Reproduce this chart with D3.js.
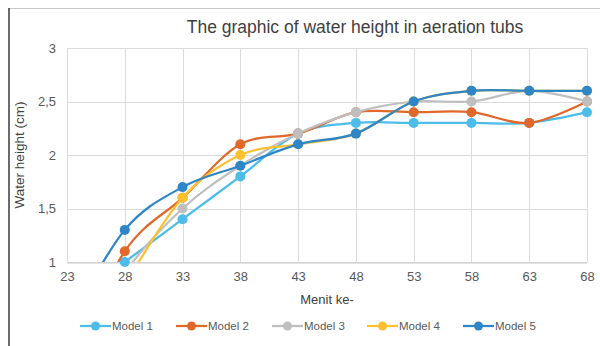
<!DOCTYPE html>
<html>
<head>
<meta charset="utf-8">
<script src="https://cdn.jsdelivr.net/npm/d3@7/dist/d3.min.js"></script>
<style>
  html, body { margin: 0; padding: 0; background: #fff; }
  svg { display: block; }
  text { font-family: "Liberation Sans", Arial, sans-serif; }
</style>
</head>
<body>
<svg id="chart" width="600" height="346"></svg>
<script>
// Minutes (x) and water height in cm for each aeration model
const minutes = [23, 28, 33, 38, 43, 48, 53, 58, 63, 68];
const model1 = [null, 1.0, 1.4, 1.8, 2.2, 2.3, 2.3, 2.3, 2.3, 2.4];
const model2 = [0, 1.1, 1.6, 2.1, 2.2, 2.4, 2.4, 2.4, 2.3, 2.5];
const model3 = [0, 0.9, 1.5, 1.9, 2.2, 2.4, 2.5, 2.5, 2.6, 2.5];
const model4 = [0, 0.8, 1.6, 2.0, 2.1, 2.2, 2.5, 2.6, 2.6, 2.6];
const model5 = [0.4, 1.3, 1.7, 1.9, 2.1, 2.2, 2.5, 2.6, 2.6, 2.6];
const seriesNames = ["Model 1", "Model 2", "Model 3", "Model 4", "Model 5"];
const seriesColors = ["#4cbde9", "#e0682a", "#bfbfbf", "#fdc02f", "#2f86c7"];
const xTicks = [23, 28, 33, 38, 43, 48, 53, 58, 63, 68];
const yTicks = [1, 1.5, 2, 2.5, 3];

const seriesValues = [model1, model2, model3, model4, model5];
const series = seriesNames.map((name, i) => ({
  name,
  color: seriesColors[i],
  points: minutes.map((m, j) => ({ x: m, y: seriesValues[i][j] })).filter(p => p.y !== null)
}));

const svg = d3.select("#chart");
const plot = { left: 67, right: 587, top: 48, bottom: 262 };

const x = d3.scaleLinear().domain([23, 68]).range([plot.left, plot.right]);
const y = d3.scaleLinear().domain([1, 3]).range([plot.bottom, plot.top]);

// Outer frame of the chart box
svg.append("line").attr("x1", 8.5).attr("x2", 600).attr("y1", 8.5).attr("y2", 8.5)
  .attr("stroke", "#c8c8c8").attr("stroke-width", 1);
svg.append("line").attr("x1", 9).attr("x2", 9).attr("y1", 8).attr("y2", 346)
  .attr("stroke", "#3a3a3a").attr("stroke-width", 1.5);

// Title
svg.append("text")
  .attr("x", 355).attr("y", 33)
  .attr("text-anchor", "middle")
  .attr("font-size", 17.5)
  .attr("fill", "#3f3f3f")
  .text("The graphic of water height in aeration tubs");

// Gridlines
const grid = svg.append("g").attr("stroke", "#dcdcdc").attr("stroke-width", 1);
grid.selectAll("line.h").data(yTicks).join("line")
  .attr("x1", plot.left).attr("x2", plot.right)
  .attr("y1", d => Math.round(y(d)) + 0.5).attr("y2", d => Math.round(y(d)) + 0.5);
grid.selectAll("line.v").data(xTicks).join("line")
  .attr("y1", plot.top).attr("y2", plot.bottom)
  .attr("x1", d => Math.round(x(d)) + 0.5).attr("x2", d => Math.round(x(d)) + 0.5);

// Axes (labels only; the bottom rule is slightly darker)
const xAxis = svg.append("g")
  .attr("transform", `translate(0,${Math.round(y(1)) + 0.5})`)
  .call(d3.axisBottom(x).tickValues(xTicks).tickSize(0).tickPadding(9).tickFormat(d3.format("d")));
xAxis.select(".domain").attr("stroke", "#c8c8c8");
xAxis.selectAll("text").attr("font-size", 13).attr("fill", "#595959")
  .attr("font-family", "'Liberation Sans', Arial, sans-serif");

const yAxis = svg.append("g")
  .attr("transform", `translate(${plot.left},0)`)
  .call(d3.axisLeft(y).tickValues(yTicks).tickSize(0).tickPadding(11)
    .tickFormat(d => String(d).replace(".", ",")));
yAxis.select(".domain").remove();
yAxis.selectAll("text").attr("font-size", 13).attr("fill", "#595959")
  .attr("font-family", "'Liberation Sans', Arial, sans-serif");

// Axis titles
svg.append("text")
  .attr("x", 327).attr("y", 304)
  .attr("text-anchor", "middle")
  .attr("font-size", 13).attr("fill", "#404040")
  .text("Menit ke-");
svg.append("text")
  .attr("transform", `translate(24,155) rotate(-90)`)
  .attr("text-anchor", "middle")
  .attr("font-size", 13.5).attr("fill", "#404040")
  .text("Water height (cm)");

// Clip the smoothed lines to the plotting area
svg.append("clipPath").attr("id", "plot-clip")
  .append("rect")
  .attr("x", plot.left).attr("y", plot.top)
  .attr("width", plot.right - plot.left).attr("height", plot.bottom - plot.top);

const line = d3.line()
  .x(d => x(d.x))
  .y(d => y(d.y))
  .curve(d3.curveCardinal.tension(0));

const seriesG = svg.append("g");
series.forEach(s => {
  const g = seriesG.append("g");
  g.append("path")
    .attr("d", line(s.points))
    .attr("fill", "none")
    .attr("stroke", s.color)
    .attr("stroke-width", 2.25)
    .attr("clip-path", "url(#plot-clip)");
  g.selectAll("circle")
    .data(s.points.filter(p => p.y >= 1 && p.y <= 3))
    .join("circle")
    .attr("cx", d => x(d.x))
    .attr("cy", d => y(d.y))
    .attr("r", 5)
    .attr("fill", s.color);
});

// Legend
const legendX = [80, 176, 272, 367, 463];
const legend = svg.append("g").attr("transform", "translate(0,326)");
series.forEach((s, i) => {
  const g = legend.append("g").attr("transform", `translate(${legendX[i]},0)`);
  g.append("line").attr("x1", 0).attr("x2", 31).attr("y1", 0).attr("y2", 0)
    .attr("stroke", s.color).attr("stroke-width", 2.25);
  g.append("circle").attr("cx", 15.5).attr("cy", 0).attr("r", 4.5).attr("fill", s.color);
  g.append("text").attr("x", 32).attr("y", 4)
    .attr("font-size", 11.5).attr("fill", "#595959")
    .text(s.name);
});
</script>
</body>
</html>
